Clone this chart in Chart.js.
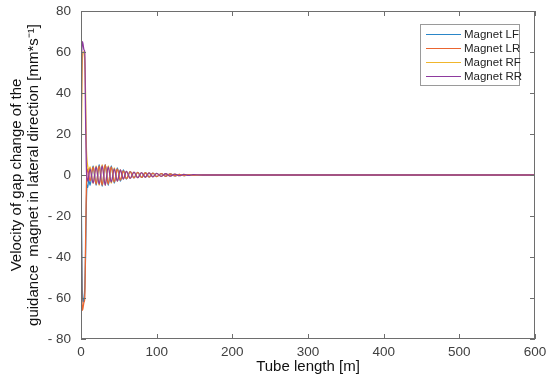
<!DOCTYPE html>
<html>
<head>
<meta charset="utf-8">
<script src="https://cdn.jsdelivr.net/npm/chart.js@4.4.0/dist/chart.umd.min.js"></script>
<style>
  html, body { margin: 0; padding: 0; background: #fff; }
  #wrap { width: 550px; height: 382px; }
</style>
</head>
<body>
<div id="wrap"><canvas id="chart" width="550" height="382"></canvas></div>
<script>
// tube length positions [m], shared by all four series
var tubeLength = [0, 1, 2, 3, 4, 5, 6, 7, 8, 9, 10, 12, 16, 20, 24, 28, 32, 36, 40, 44, 48, 52, 56, 60,
                  65, 70, 75, 80, 85, 90, 95, 100, 106, 112, 118, 124, 130, 136, 142, 148, 160, 200, 600];

// velocity of gap change [mm*s^-1]
var magnetLF = [0, -35, -60, -62, -60, -55, -40, -15, -5, -6, -2, -5, 4.5, -5, 5, -5.5, 5, -5, 4.5, -4, 3.5, -3, 2.5, -2,
                1.6, -1.4, 1.3, -1.2, 1.1, -1, 0.9, -0.8, 0.7, -0.6, 0.5, -0.4, 0.35, -0.3, 0.2, -0.15, 0, 0, 0];
var magnetLR = [0, -55, -66, -64, -62, -60, -35, -8, 2, 3, 1, -3, 4, -4.5, 4.5, -5, 5, -4.5, 4, -3.5, 3, -2.5, 2, -1.8,
                1.6, -1.4, 1.3, -1.2, 1.1, -1, 0.9, -0.8, 0.7, -0.6, 0.5, -0.4, 0.35, -0.3, 0.2, -0.15, 0, 0, 0];
var magnetRF = [0, 35, 58, 60, 60, 55, 40, 15, 7, 4, 2, 4, -4, 4.5, -5, 5, -5, 4.5, -4, 3.5, -3, 2.5, -2, 1.8,
                -1.6, 1.4, -1.3, 1.2, -1.1, 1, -0.9, 0.8, -0.7, 0.6, -0.5, 0.4, -0.35, 0.3, -0.2, 0.15, 0, 0, 0];
var magnetRR = [0, 60, 65, 63, 61, 60, 30, 5, -2, -3, -1, 3, -4, 4, -4.5, 4.5, -5, 4, -3.5, 3, -3, 2.5, -2, 1.8,
                -1.6, 1.4, -1.3, 1.2, -1.1, 1, -0.9, 0.8, -0.7, 0.6, -0.5, 0.4, -0.35, 0.3, -0.2, 0.15, 0, 0, 0];

var seriesNames = ["Magnet LF", "Magnet LR", "Magnet RF", "Magnet RR"];
var seriesColors = ["#2a86c8", "#ea6530", "#f0b62c", "#8e3a9e"];
var xTicks = [0, 100, 200, 300, 400, 500, 600];
var yTicks = [-80, -60, -40, -20, 0, 20, 40, 60, 80];

function toPoints(ys) {
    return tubeLength.map(function(x, i) { return { x: x, y: ys[i] }; });
}

var allSeries = [magnetLF, magnetLR, magnetRF, magnetRR];
var datasets = allSeries.map(function(ys, i) {
    return {
        label: seriesNames[i],
        data: toPoints(ys),
        borderColor: seriesColors[i],
        backgroundColor: seriesColors[i],
        borderWidth: 1.3,
        pointRadius: 0,
        cubicInterpolationMode: "monotone",
        // matlab draws the last line on top
        order: allSeries.length - i
    };
});

var FONT = "'Liberation Sans', Arial, sans-serif";
var TEXT = "#404040";
var BOX = "#6e6e6e";

// box round the plot with inward ticks on all four sides
var boxPlugin = {
    id: "matlabBox",
    afterDraw: function(chart) {
        var ctx = chart.ctx, a = chart.chartArea;
        var xs = chart.scales.x, ys = chart.scales.y;
        ctx.save();
        ctx.strokeStyle = BOX;
        ctx.lineWidth = 1;
        ctx.strokeRect(a.left + 0.5, a.top + 0.5, a.right - a.left - 1, a.bottom - a.top - 1);
        ctx.beginPath();
        xs.ticks.forEach(function(t) {
            var px = Math.round(xs.getPixelForValue(t.value)) + 0.5;
            ctx.moveTo(px, a.bottom); ctx.lineTo(px, a.bottom - 5);
            ctx.moveTo(px, a.top); ctx.lineTo(px, a.top + 5);
        });
        ys.ticks.forEach(function(t) {
            var py = Math.round(ys.getPixelForValue(t.value)) + 0.5;
            ctx.moveTo(a.left, py); ctx.lineTo(a.left + 5, py);
            ctx.moveTo(a.right, py); ctx.lineTo(a.right - 5, py);
        });
        ctx.stroke();

        // legend box in the upper right corner
        var lx = 420, ly = 24, lw = 99, lh = 61;
        ctx.fillStyle = "#fff";
        ctx.fillRect(lx, ly, lw, lh);
        ctx.strokeStyle = "#9a9a9a";
        ctx.strokeRect(lx + 0.5, ly + 0.5, lw, lh);
        ctx.font = "11.5px " + FONT;
        ctx.textBaseline = "middle";
        ctx.textAlign = "left";
        seriesNames.forEach(function(name, i) {
            var rowY = ly + 10.5 + i * 14;
            ctx.strokeStyle = seriesColors[i];
            ctx.lineWidth = 1.2;
            ctx.beginPath();
            ctx.moveTo(lx + 6, rowY); ctx.lineTo(lx + 41, rowY);
            ctx.stroke();
            ctx.fillStyle = "#222";
            ctx.fillText(name, lx + 44, rowY + 0.5);
        });
        ctx.restore();
    }
};

var chart = new Chart(document.getElementById("chart"), {
    type: "line",
    data: { datasets: datasets },
    plugins: [boxPlugin],
    options: {
        responsive: false,
        animation: false,
        layout: { padding: { top: 11, right: 15, left: 0, bottom: 0 } },
        plugins: {
            legend: { display: false },
            tooltip: { enabled: false }
        },
        scales: {
            x: {
                type: "linear",
                min: 0,
                max: 600,
                afterBuildTicks: function(scale) {
                    scale.ticks = xTicks.map(function(v) { return { value: v }; });
                },
                afterFit: function(scale) {
                    scale.height = 43;
                    scale.paddingLeft = 0;
                    scale.paddingRight = 0;
                },
                grid: { display: false, drawTicks: false },
                border: { display: false },
                ticks: { padding: 5, color: TEXT, font: { family: FONT, size: 13.5 }, maxRotation: 0 },
                title: {
                    display: true,
                    text: "Tube length [m]",
                    color: "#111",
                    font: { family: FONT, size: 15, lineHeight: 1.1 },
                    padding: { top: 0, bottom: 7 }
                }
            },
            y: {
                min: -80,
                max: 80,
                afterBuildTicks: function(scale) {
                    scale.ticks = yTicks.map(function(v) { return { value: v }; });
                },
                afterFit: function(scale) {
                    scale.width = 81;
                    scale.paddingTop = 0;
                    scale.paddingBottom = 0;
                },
                grid: { display: false, drawTicks: false },
                border: { display: false },
                ticks: {
                    padding: 10,
                    color: TEXT,
                    font: { family: FONT, size: 13.5 },
                    callback: function(v) { return v < 0 ? "- " + Math.abs(v) : String(v); }
                },
                title: {
                    display: true,
                    text: ["Velocity of gap change of the", "guidance  magnet in lateral direction [mm*s\u207B\u00B9]"],
                    color: "#111",
                    font: { family: FONT, size: 15, lineHeight: 1.1 },
                    padding: { top: 9, bottom: 0 }
                }
            }
        }
    }
});
</script>
</body>
</html>
